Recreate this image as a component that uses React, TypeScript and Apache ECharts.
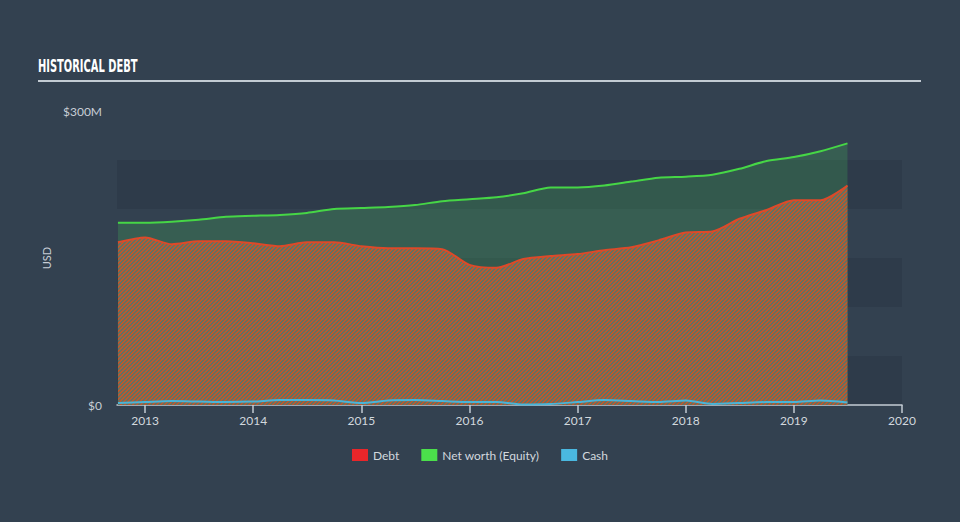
import React, { useEffect, useRef } from "react";
import * as echarts from "echarts";

const dates = [
  "2012-09-30", "2012-12-31",
  "2013-03-31", "2013-06-30", "2013-09-30", "2013-12-31",
  "2014-03-31", "2014-06-30", "2014-09-30", "2014-12-31",
  "2015-03-31", "2015-06-30", "2015-09-30", "2015-12-31",
  "2016-03-31", "2016-06-30", "2016-09-30", "2016-12-31",
  "2017-03-31", "2017-06-30", "2017-09-30", "2017-12-31",
  "2018-03-31", "2018-06-30", "2018-09-30", "2018-12-31",
  "2019-03-31", "2019-06-30",
];
const debt = [166, 171, 164, 167, 167, 165, 162, 166, 166, 162, 160, 160, 159, 143, 140, 149, 152, 154, 158, 161, 168, 176, 177, 190, 199, 209, 209, 224];
const equity = [186, 186, 187, 189, 192, 193, 194, 196, 200, 201, 202, 204, 208, 210, 212, 216, 222, 222, 224, 228, 232, 233, 235, 241, 249, 253, 259, 267];
const cash = [2, 3, 4, 3.5, 3, 3.5, 5, 5, 4.5, 2, 4.5, 5, 4, 3, 3, 0.5, 1, 3, 5, 4, 3, 4.5, 1, 2, 3, 3, 4.5, 2.5];
const yearTicks = [2013, 2014, 2015, 2016, 2017, 2018, 2019, 2020];
const yLabels = [0, 300];

const FONT = "Lato, 'Noto Sans', sans-serif";

function decYear(d: string) {
  const t = new Date(d + "T00:00:00Z");
  const y = t.getUTCFullYear();
  const start = Date.UTC(y, 0, 1);
  const end = Date.UTC(y + 1, 0, 1);
  return y + (t.getTime() - start + 86400000) / (end - start);
}

export default function App() {
  const ref = useRef<HTMLDivElement>(null);
  useEffect(() => {
    if (!ref.current) return;
    const chart = echarts.init(ref.current, null, { renderer: "svg" });

    const S = 4;
    const cv = document.createElement("canvas");
    cv.width = S;
    cv.height = S;
    const ctx = cv.getContext("2d")!;
    for (let i = 0; i < S; i++) {
      for (let j = 0; j < S; j++) {
        ctx.fillStyle = (i + j) % S < 2 ? "#bb582f" : "#627262";
        ctx.fillRect(i, j, 1, 1);
      }
    }

    const toPts = (arr: number[]) => arr.map((v, i) => [decYear(dates[i]), v]);

    chart.setOption({
      animation: false,
      backgroundColor: "#334150",
      graphic: [
        {
          type: "text",
          x: 38,
          y: 57,
          scaleX: 0.55,
          style: {
            text: "HISTORICAL DEBT",
            fill: "#ffffff",
            font: "bold 18px 'DejaVu Sans', sans-serif",
            verticalAlign: "top",
          },
        },
        {
          type: "line",
          shape: { x1: 38, y1: 81, x2: 921, y2: 81 },
          style: { stroke: "#c3cbd3", lineWidth: 2 },
        },
      ],
      grid: { left: 117, right: 58, top: 111, bottom: 117 },
      legend: {
        top: 444,
        left: "center",
        icon: "rect",
        itemWidth: 16,
        itemHeight: 12,
        itemGap: 22,
        textStyle: { color: "#d2d8de", fontSize: 12, fontFamily: FONT },
        data: [
          { name: "Debt", itemStyle: { color: "#e8262a" } },
          { name: "Net worth (Equity)", itemStyle: { color: "#4be04b" } },
          { name: "Cash", itemStyle: { color: "#4ab8e0" } },
        ],
      },
      xAxis: {
        type: "value",
        min: 2012.74,
        max: 2020,
        axisLine: { show: true, lineStyle: { color: "#c3cbd3", width: 1.5 } },
        axisTick: {
          show: true,
          length: 8,
          lineStyle: { color: "#c3cbd3", width: 1.5 },
          customValues: yearTicks,
        },
        axisLabel: {
          color: "#d2d8de",
          fontSize: 12,
          fontFamily: FONT,
          margin: 9,
          customValues: yearTicks,
          formatter: (v: number) => String(v),
        },
        splitLine: { show: false },
      },
      yAxis: {
        type: "value",
        min: 0,
        max: 300,
        interval: 50,
        name: "USD",
        nameLocation: "middle",
        nameRotate: 90,
        nameGap: 52,
        nameTextStyle: { color: "#c8ced6", fontSize: 11, fontFamily: FONT },
        axisLine: { show: false },
        axisTick: { show: false },
        axisLabel: {
          color: "#c8ced6",
          fontSize: 12,
          fontFamily: FONT,
          margin: 15,
          customValues: yLabels,
          formatter: (v: number) => (v === 0 ? "$0" : "$" + v + "M"),
        },
        splitLine: { show: false },
        splitArea: {
          show: true,
          areaStyle: { color: ["rgba(30,40,54,0.22)", "rgba(0,0,0,0)"] },
        },
      },
      series: [
        {
          name: "Net worth (Equity)",
          type: "line",
          data: toPts(equity),
          showSymbol: false,
          smooth: 0.25,
          itemStyle: { color: "#4be04b" },
          lineStyle: { color: "#46d646", width: 2 },
          areaStyle: { color: "rgba(70,190,90,0.33)", origin: "start" },
          z: 2,
        },
        {
          name: "Debt",
          type: "line",
          data: toPts(debt),
          showSymbol: false,
          smooth: 0.25,
          itemStyle: { color: "#e8262a" },
          lineStyle: { color: "#dc4a2a", width: 2 },
          areaStyle: {
            color: { image: cv, repeat: "repeat", imageWidth: S, imageHeight: S } as any,
            opacity: 1,
            origin: "start",
          },
          z: 3,
        },
        {
          name: "Cash",
          type: "line",
          data: toPts(cash),
          showSymbol: false,
          smooth: 0.25,
          itemStyle: { color: "#4ab8e0" },
          lineStyle: { color: "#4ab4d8", width: 2 },
          z: 4,
        },
      ],
    });
    return () => chart.dispose();
  }, []);
  return (
    <div
      ref={ref}
      style={{ position: "fixed", left: 0, top: 0, width: 960, height: 522 }}
    />
  );
}
